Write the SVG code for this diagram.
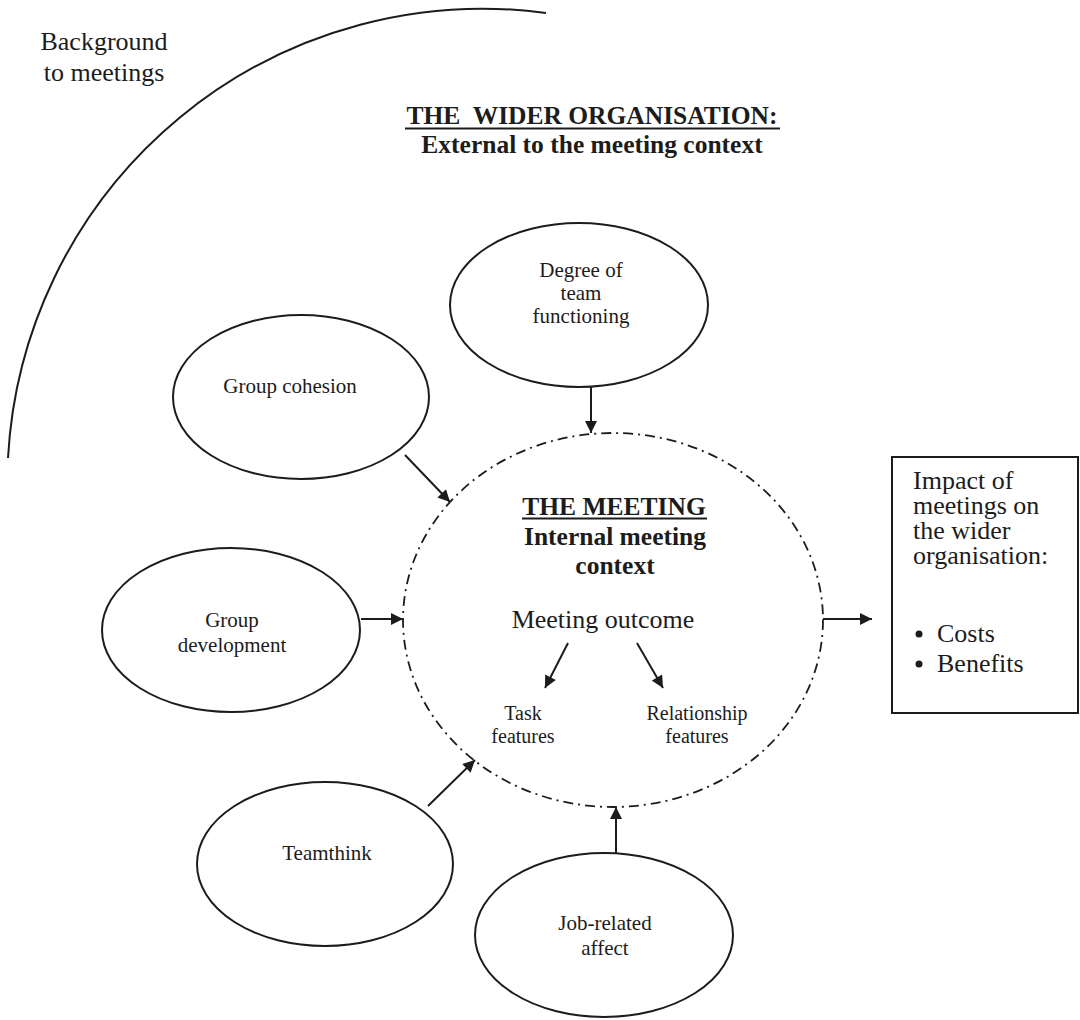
<svg xmlns="http://www.w3.org/2000/svg" width="1080" height="1020" viewBox="0 0 1080 1020">
  <defs>
    <marker id="arrow" viewBox="0 0 10 10" refX="10" refY="5" markerWidth="14" markerHeight="12" markerUnits="userSpaceOnUse" orient="auto">
      <path d="M0,0 L10,5 L0,10 z" fill="#1c1c1c"/>
    </marker>
    <style>
      text { font-family: "Liberation Serif", "Times New Roman", serif; fill: #1c1c1c; }
      .head { font-size: 25.5px; font-weight: bold; text-anchor: middle; }
      .label { font-size: 21px; text-anchor: middle; }
      .small { font-size: 20px; text-anchor: middle; }
      .big { font-size: 26px; }
      .node { fill: #ffffff; stroke: #1c1c1c; stroke-width: 2; }
      .edge { stroke: #1c1c1c; stroke-width: 2; fill: none; marker-end: url(#arrow); }
      .rule { stroke: #1c1c1c; stroke-width: 2.2; }
    </style>
  </defs>

  <rect width="1080" height="1020" fill="#ffffff"/>

  <!-- outer boundary of the wider organisation -->
  <path d="M 8 458 A 475 475 0 0 1 546 13" fill="none" stroke="#1c1c1c" stroke-width="2"/>

  <text class="big" x="104" y="50" text-anchor="middle">Background</text>
  <text class="big" x="104" y="81" text-anchor="middle">to meetings</text>

  <text class="head" x="592" y="124" xml:space="preserve">THE  WIDER ORGANISATION:</text>
  <line class="rule" x1="405" y1="128.5" x2="780" y2="128.5"/>
  <text class="head" x="592" y="153">External to the meeting context</text>

  <!-- central meeting context -->
  <g id="meeting">
    <ellipse cx="613" cy="620" rx="210" ry="187" fill="none" stroke="#1c1c1c" stroke-width="1.8" stroke-dasharray="10 5 2 5"/>
    <text class="head" x="614" y="515">THE MEETING</text>
    <line class="rule" x1="522" y1="518.5" x2="707" y2="518.5"/>
    <text class="head" x="615" y="545">Internal meeting</text>
    <text class="head" x="615" y="574">context</text>
    <text class="big" x="603" y="628" text-anchor="middle">Meeting outcome</text>
    <text class="small" x="523" y="720">Task</text>
    <text class="small" x="523" y="743">features</text>
    <text class="small" x="697" y="720">Relationship</text>
    <text class="small" x="697" y="743">features</text>
  </g>

  <g id="team-functioning">
    <ellipse class="node" cx="579" cy="305" rx="129" ry="82"/>
    <text class="label" x="581" y="277">Degree of</text>
    <text class="label" x="581" y="300">team</text>
    <text class="label" x="581" y="323">functioning</text>
  </g>

  <g id="group-cohesion">
    <ellipse class="node" cx="301" cy="397" rx="128" ry="82"/>
    <text class="label" x="290" y="393">Group cohesion</text>
  </g>

  <g id="group-development">
    <ellipse class="node" cx="231" cy="630" rx="129" ry="82"/>
    <text class="label" x="232" y="627">Group</text>
    <text class="label" x="232" y="652">development</text>
  </g>

  <g id="teamthink">
    <ellipse class="node" cx="325" cy="864" rx="128" ry="82"/>
    <text class="label" x="327" y="860">Teamthink</text>
  </g>

  <g id="job-affect">
    <ellipse class="node" cx="604" cy="935" rx="129" ry="82"/>
    <text class="label" x="605" y="930">Job-related</text>
    <text class="label" x="605" y="955">affect</text>
  </g>

  <g id="impact">
    <rect x="892" y="457" width="186" height="256" fill="#ffffff" stroke="#1c1c1c" stroke-width="2"/>
    <text class="big" x="913" y="489">Impact of</text>
    <text class="big" x="913" y="514">meetings on</text>
    <text class="big" x="913" y="539">the wider</text>
    <text class="big" x="913" y="564">organisation:</text>
    <circle cx="919" cy="634" r="3.5" fill="#1c1c1c"/>
    <text class="big" x="937" y="642">Costs</text>
    <circle cx="919" cy="664" r="3.5" fill="#1c1c1c"/>
    <text class="big" x="937" y="672">Benefits</text>
  </g>

  <g id="connectors">
    <line class="edge" x1="591" y1="387" x2="591" y2="433"/>
    <line class="edge" x1="405" y1="455" x2="450" y2="502"/>
    <line class="edge" x1="361" y1="619" x2="403" y2="619"/>
    <line class="edge" x1="428" y1="806" x2="475" y2="760"/>
    <line class="edge" x1="616" y1="853" x2="616" y2="807"/>
    <line class="edge" x1="823" y1="619" x2="872" y2="619"/>
    <line class="edge" x1="568" y1="643" x2="545" y2="688"/>
    <line class="edge" x1="637" y1="643" x2="663" y2="688"/>
  </g>
</svg>
